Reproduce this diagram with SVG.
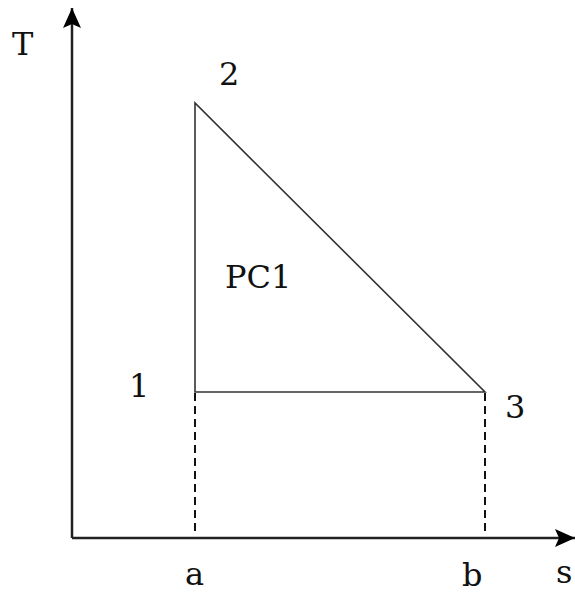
<svg xmlns="http://www.w3.org/2000/svg" width="575" height="594" viewBox="0 0 575 594">
<style>
.lb{font-family:"DejaVu Serif","Liberation Serif",serif;font-size:32px;fill:#111}
.ax{stroke:#222;stroke-width:2.5;fill:none}
.tri{stroke:#333;stroke-width:1.6;fill:none}
.dash{stroke:#111;stroke-width:2;stroke-dasharray:8 5;fill:none}
</style>
<defs>
<marker id="ah2" viewBox="0 0 20 18" refX="20" refY="9" markerWidth="20" markerHeight="18" markerUnits="userSpaceOnUse" orient="auto">
<path d="M0,0 L20,9 L0,18 L4,9 z" fill="#000"/>
</marker>
</defs>
<g id="connectors">
<line class="ax" x1="72" y1="538" x2="72" y2="8" marker-end="url(#ah2)"/>
<line class="ax" x1="72" y1="538" x2="575" y2="538" marker-end="url(#ah2)"/>
<polygon class="tri" points="195,103 195,392 485,392"/>
<line class="dash" x1="195" y1="393" x2="195" y2="536"/>
<line class="dash" x1="485" y1="393" x2="485" y2="536"/>
</g>
<g id="labels">
<text class="lb" id="T" x="12" y="55">T</text>
<text class="lb" id="n2" x="219" y="85">2</text>
<text class="lb" id="n1" x="129" y="397">1</text>
<text class="lb" id="n3" x="505" y="418">3</text>
<text class="lb" id="a" x="185" y="585">a</text>
<text class="lb" id="b" x="462" y="586">b</text>
<text class="lb" id="s" x="556" y="583">s</text>
<text class="lb" id="PC1" x="225" y="288">PC1</text>
</g>
</svg>
